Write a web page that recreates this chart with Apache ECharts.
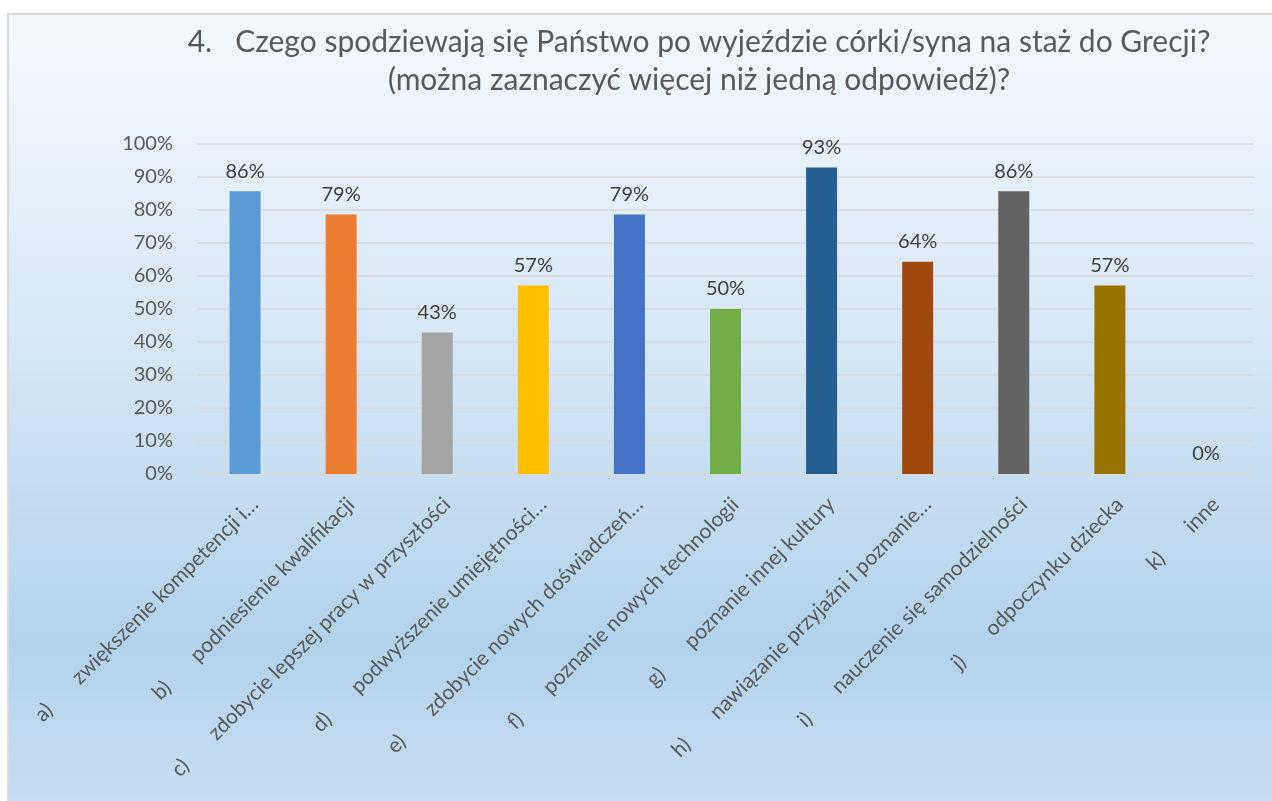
<!DOCTYPE html>
<html>
<head>
<meta charset="utf-8">
<script src="https://cdn.jsdelivr.net/npm/echarts@6/dist/echarts.min.js"></script>
<style>
  html, body { margin: 0; padding: 0; background: #fff; overflow: hidden; }
  #chart {
    position: absolute; left: 7px; top: 13px;
    width: 1263px; height: 786px;
    border-left: 2px solid #d9d9d9; border-top: 2px solid #d9d9d9;
  }
</style>
</head>
<body>
<div id="chart"></div>
<script>
const titleText = '4.   Czego spodziewają się Państwo po wyjeździe córki/syna na staż do Grecji?\n(można zaznaczyć więcej niż jedną odpowiedź)?'
const letters = ['a)', 'b)', 'c)', 'd)', 'e)', 'f)', 'g)', 'h)', 'i)', 'j)', 'k)']
const answers = [
  'zwiększenie kompetencji i…',
  'podniesienie kwalifikacji',
  'zdobycie lepszej pracy w przyszłości',
  'podwyższenie umiejętności…',
  'zdobycie nowych doświadczeń…',
  'poznanie nowych technologii',
  'poznanie innej kultury',
  'nawiązanie przyjaźni i poznanie…',
  'nauczenie się samodzielności',
  'odpoczynku dziecka',
  'inne'
]
const percents = [85.7, 78.6, 42.9, 57.1, 78.6, 50, 92.9, 64.3, 85.7, 57.1, 0]
const barColors = ['#5B9BD5', '#ED7D31', '#A5A5A5', '#FFC000', '#4472C4', '#70AD47',
  '#255E91', '#9E480E', '#636363', '#997300', '#264478']
const yTicks = [0, 10, 20, 30, 40, 50, 60, 70, 80, 90, 100]

// letter + tab-like gap + answer text, as in the source labels
const categories = letters.map((l, i) => l + '\u2003\u2003 ' + answers[i])
const fontFamily = 'Lato, "Open Sans", sans-serif'

const chart = echarts.init(document.getElementById('chart'))
chart.setOption({
  backgroundColor: {
    type: 'linear', x: 0, y: 0, x2: 0, y2: 1,
    colorStops: [
      { offset: 0, color: '#f5f9fd' },
      { offset: 0.45, color: '#d4e5f4' },
      { offset: 0.8, color: '#b3d1eb' },
      { offset: 1, color: '#c7ddf1' }
    ]
  },
  textStyle: { fontFamily },
  title: {
    text: titleText,
    left: 685,
    top: 3,
    textAlign: 'center',
    textStyle: { color: '#595959', fontSize: 30, fontWeight: 'normal', lineHeight: 38, fontFamily }
  },
  grid: { left: 188, right: 18, top: 129, bottom: 327, containLabel: false },
  xAxis: {
    type: 'category',
    data: categories,
    axisLine: { show: true, lineStyle: { color: '#d9d9d9', width: 1.5 } },
    axisTick: { show: false },
    axisLabel: {
      interval: 0,
      rotate: 45,
      margin: 37,
      color: '#595959',
      fontSize: 21,
      padding: [0, -14, 0, 0]
    }
  },
  yAxis: {
    type: 'value',
    min: yTicks[0],
    max: yTicks[yTicks.length - 1],
    interval: 10,
    axisLine: { show: false },
    axisTick: { show: false },
    axisLabel: { color: '#595959', fontSize: 20, margin: 24, formatter: v => v + '%' },
    splitLine: { lineStyle: { color: '#d9d9d9', width: 1.5 } }
  },
  series: [{
    type: 'bar',
    data: percents.map((v, i) => ({ value: v, itemStyle: { color: barColors[i] } })),
    barWidth: 31,
    label: {
      show: true,
      position: 'top',
      distance: 10,
      color: '#404040',
      fontSize: 20,
      formatter: p => Math.round(p.value) + '%'
    }
  }]
})
</script>
</body>
</html>
